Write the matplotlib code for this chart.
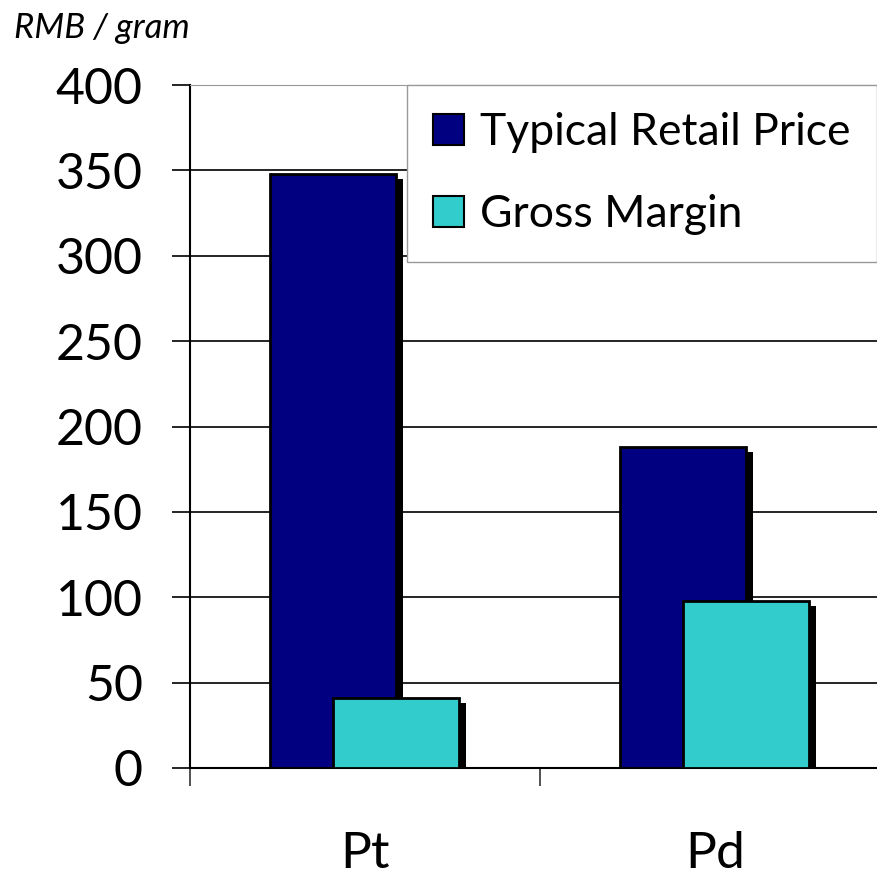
import numpy as np
import matplotlib
matplotlib.use("Agg")
import matplotlib.pyplot as plt
import matplotlib.patheffects as pe

# данные
metals = ["Pt", "Pd"]
retail_price = [348, 188]
gross_margin = [41, 98]
series_names = ["Typical Retail Price", "Gross Margin"]
yticks = [0, 50, 100, 150, 200, 250, 300, 350, 400]

plt.rcParams["font.family"] = ["Lato", "DejaVu Sans"]

fig = plt.figure(figsize=(8.77, 8.77), dpi=100)
ax = fig.add_axes([190 / 877, 109 / 877, 687 / 877, 683 / 877])

x = np.arange(len(metals))
shadow = [pe.SimplePatchShadow(offset=(4.5, -3.5), shadow_rgbFace="black", alpha=1), pe.Normal()]
ax.bar(x - 0.09, retail_price, width=0.36, color="#000080", edgecolor="black", linewidth=2,
       label=series_names[0], path_effects=shadow, zorder=3)
ax.bar(x + 0.09, gross_margin, width=0.36, color="#33CCCC", edgecolor="black", linewidth=2,
       label=series_names[1], path_effects=shadow, zorder=4)

ax.set_yticks(yticks)
ax.set_yticklabels([str(v) for v in yticks])
ax.grid(axis="y", color="black", linewidth=1.2, zorder=1)
ax.set_axisbelow(True)

# подписи категорий - минорные деления, границы - мажорные
ax.set_xticks([-0.5, 0.5, 1.5])
ax.set_xticklabels([])
ax.set_xticks(x, minor=True)
ax.set_xticklabels(metals, minor=True)
ax.set_xlim(-0.5, 1.463)
ax.set_ylim(0, 400)
ax.tick_params(axis="x", which="major", direction="out", length=13, width=1.2, color="#333333")
ax.tick_params(axis="x", which="minor", length=0, pad=45, labelsize=37)
ax.tick_params(axis="y", direction="out", length=13, width=1.2, pad=21, labelsize=36)

ax.spines["right"].set_visible(False)
ax.spines["top"].set_color("#999999")
ax.spines["left"].set_linewidth(1.5)
ax.spines["bottom"].set_linewidth(1.5)

leg = ax.legend(loc="upper right", bbox_to_anchor=(1.0, 1.0), fontsize=32, frameon=True,
                fancybox=False, framealpha=1, edgecolor="#999999", borderaxespad=0,
                borderpad=0.6, labelspacing=0.93, handlelength=0.7, handleheight=0.7,
                handletextpad=0.35)
leg.set_zorder(5)
for h in leg.legend_handles:
    h.set_path_effects([])
    h.set_linewidth(1.5)

fig.text(14 / 877, 1 - 28 / 877, "RMB / gram", fontsize=25, style="italic", va="center", ha="left")

fig.savefig("out.png", dpi=100)
